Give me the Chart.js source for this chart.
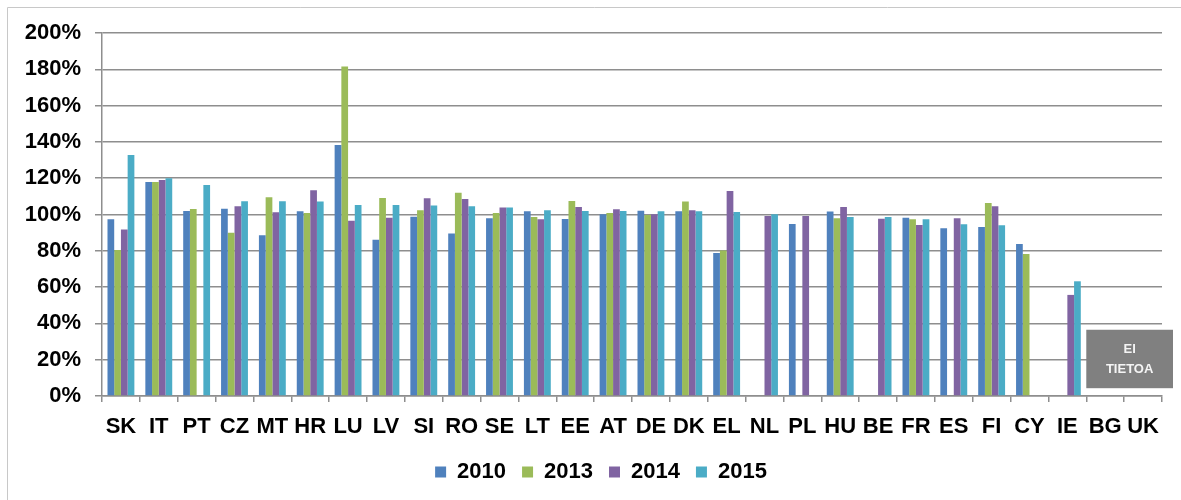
<!DOCTYPE html>
<html>
<head>
<meta charset="utf-8">
<script src="https://cdn.jsdelivr.net/npm/chart.js@4"></script>
<style>
  html, body { margin: 0; padding: 0; background: #fff; }
  #wrap { width: 1181px; height: 500px; position: relative; }
</style>
</head>
<body>
<div id="wrap"><canvas id="chart"></canvas></div>
<script>
// DATA
const countries = ['SK','IT','PT','CZ','MT','HR','LU','LV','SI','RO','SE','LT','EE','AT','DE','DK','EL','NL','PL','HU','BE','FR','ES','FI','CY','IE','BG','UK'];
const years = ['2010', '2013', '2014', '2015'];

const v2010 = [97.4,117.9,101.9,103.2,88.5,101.8,138.3,86.1,98.8,89.6,97.9,101.8,97.5,100.1,102.1,101.8,78.8,null,94.8,101.6,null,98.2,92.4,93.1,83.8,null,null,null];
const v2013 = [80.4,117.9,103,90,109.5,100.8,181.5,109.1,102.3,112,100.8,98.6,107.4,100.8,99.7,107.1,80.1,null,null,97.9,null,97.4,null,106.3,78.2,null,null,null];
const v2014 = [91.8,119,null,104.5,101.2,113.3,96.6,98.2,108.9,108.5,103.8,97.4,104.1,102.9,100.1,102.3,113,99.2,99.2,104.1,97.7,94.2,97.9,104.5,null,55.7,null,null];
const v2015 = [132.8,120,116.3,107.3,107.3,107.1,105.2,105.2,104.9,104.5,103.8,102.3,101.9,101.9,101.8,101.8,101.4,100.1,null,98.6,98.6,97.4,94.6,94.1,null,63.2,null,null];

const noDataLines = ['EI', 'TIETOA'];

const colors = ['#4F81BD', '#9BBB59', '#8064A2', '#4BACC6'];
const FONT = '"Liberation Sans", Arial, sans-serif';

// frame round the chart (only top and left show in the picture)
const framePlugin = {
    id: 'frame',
    beforeDraw(chart) {
        const ctx = chart.ctx;
        ctx.save();
        ctx.strokeStyle = '#c8c8c8';
        ctx.lineWidth = 1;
        ctx.beginPath();
        ctx.moveTo(7.5, 500);
        ctx.lineTo(7.5, 7.5);
        ctx.lineTo(1181, 7.5);
        ctx.stroke();
        ctx.restore();
    }
};

// move legend a little right, like the original
const legendShift = {
    id: 'legendShift',
    afterLayout(chart) {
        chart.legend.left += 20;
        chart.legend.right += 20;
    }
};

// grey "no data" box over BG / UK
const noDataPlugin = {
    id: 'noData',
    afterDatasetsDraw(chart) {
        const ctx = chart.ctx;
        const x = chart.scales.x, y = chart.scales.y;
        const left = (x.getPixelForValue(25) + x.getPixelForValue(26)) / 2;
        const right = chart.chartArea.right + 11;
        const top = y.getPixelForValue(36.5);
        const bottom = y.getPixelForValue(4.3);
        ctx.save();
        ctx.fillStyle = '#808080';
        ctx.fillRect(left, top, right - left, bottom - top);
        ctx.fillStyle = '#f4f4f4';
        ctx.font = 'bold 13px ' + FONT;
        ctx.textAlign = 'center';
        ctx.textBaseline = 'middle';
        const cx = (left + right) / 2, cy = (top + bottom) / 2;
        ctx.fillText(noDataLines[0], cx, cy - 10);
        ctx.fillText(noDataLines[1], cx, cy + 10);
        ctx.restore();
    }
};

new Chart(document.getElementById('chart'), {
    type: 'bar',
    data: {
        labels: countries,
        datasets: [v2010, v2013, v2014, v2015].map((d, i) => ({
            label: years[i],
            data: d,
            backgroundColor: colors[i],
            borderWidth: 0,
            categoryPercentage: 0.71,
            barPercentage: 1
        }))
    },
    options: {
        responsive: true,
        maintainAspectRatio: false,
        animation: false,
        layout: { padding: { left: 0, right: 19, top: 33, bottom: 7 } },
        scales: {
            x: {
                afterFit(scale) { scale.height = 49; },
                grid: {
                    offset: true,
                    drawOnChartArea: false,
                    drawTicks: true,
                    tickLength: 6,
                    color: '#8e8e8e',
                    lineWidth: 1.5
                },
                border: { color: '#8e8e8e', width: 1.5 },
                ticks: {
                    color: '#000',
                    font: { family: FONT, size: 22, weight: 'bold' },
                    padding: 12,
                    maxRotation: 0,
                    autoSkip: false
                }
            },
            y: {
                min: 0,
                max: 200,
                afterFit(scale) { scale.width = 102; },
                grid: {
                    color: '#8e8e8e',
                    lineWidth: 1.5,
                    tickLength: 7
                },
                border: { color: '#8e8e8e', width: 1.5 },
                ticks: {
                    stepSize: 20,
                    color: '#000',
                    font: { family: FONT, size: 22, weight: 'bold' },
                    padding: 14,
                    callback: v => v + '%'
                }
            }
        },
        plugins: {
            legend: {
                position: 'bottom',
                labels: {
                    color: '#000',
                    font: { family: FONT, size: 22, weight: 'bold' },
                    boxWidth: 11,
                    boxHeight: 11,
                    padding: 16
                }
            },
            tooltip: { enabled: false }
        }
    },
    plugins: [framePlugin, legendShift, noDataPlugin]
});
</script>
</body>
</html>
